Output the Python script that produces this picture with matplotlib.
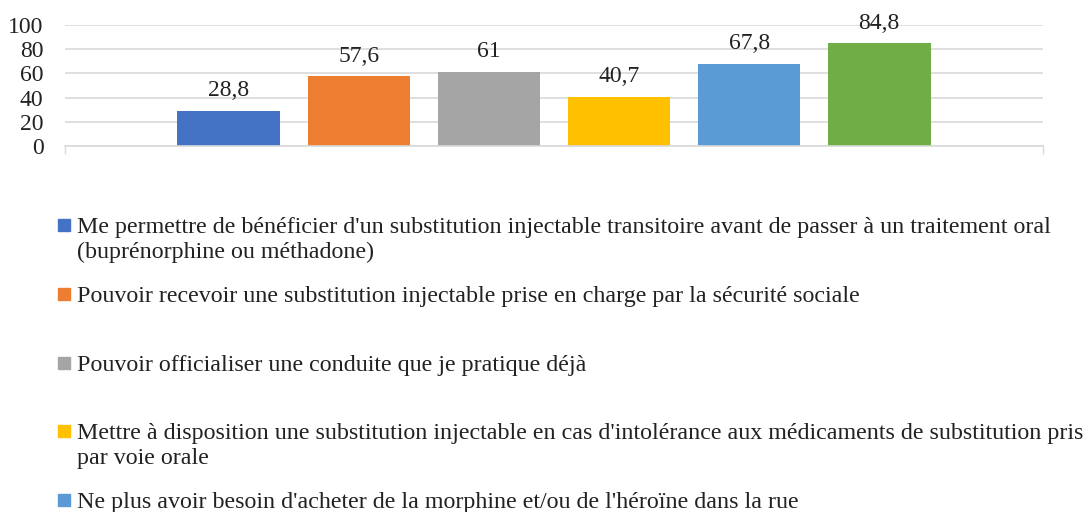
import matplotlib
matplotlib.use("Agg")
import matplotlib.pyplot as plt
from matplotlib.patches import Rectangle

# data
valeurs = [28.8, 57.6, 61, 40.7, 67.8, 84.8]
etiquettes = ["28,8", "57,6", "61", "40,7", "67,8", "84,8"]
couleurs = ["#4472C4", "#ED7D31", "#A5A5A5", "#FFC000", "#5B9BD5", "#70AD47"]
legende = [
    "Me permettre de bénéficier d'un substitution injectable transitoire avant de passer à un traitement oral\n(buprénorphine ou méthadone)",
    "Pouvoir recevoir une substitution injectable prise en charge par la sécurité sociale",
    "Pouvoir officialiser une conduite que je pratique déjà",
    "Mettre à disposition une substitution injectable en cas d'intolérance aux médicaments de substitution pris\npar voie orale",
    "Ne plus avoir besoin d'acheter de la morphine et/ou de l'héroïne dans la rue",
]
yticks = [0, 20, 40, 60, 80, 100]

plt.rcParams['font.family'] = ['Liberation Serif', 'DejaVu Serif']
W, H = 1089, 512
fig = plt.figure(figsize=(W / 100, H / 100), dpi=100)
ax = fig.add_axes([65 / W, 1 - 146 / H, (1043 - 65) / W, (146 - 25) / H])

x = list(range(len(valeurs)))
bars = ax.bar(x, valeurs, width=0.79, color=couleurs, zorder=2)
for b, lab in zip(bars, etiquettes):
    ax.annotate(lab, (b.get_x() + b.get_width() / 2, b.get_height()),
                xytext=(0, 7), textcoords="offset points",
                ha="center", va="bottom", fontsize=17, color="#222222")

ax.set_xlim(-1.26, len(valeurs) - 1 + 1.26)
ax.set_ylim(0, 100)
ax.set_yticks(yticks)
ax.set_yticklabels([str(t) for t in yticks], fontsize=17, color="#222222")
ax.tick_params(axis="y", length=0, pad=15.5)
ax.set_xticks([ax.get_xlim()[0], ax.get_xlim()[1]])
ax.set_xticklabels([])
ax.tick_params(axis="x", length=6, color="#d9d9d9", width=1)
ax.yaxis.grid(True, color="#d9d9d9", linewidth=1.2, zorder=0)
ax.set_axisbelow(True)
for s in ["top", "right", "left"]:
    ax.spines[s].set_visible(False)
ax.spines["bottom"].set_color("#d9d9d9")
ax.spines["bottom"].set_linewidth(1.2)

# legend drawn by hand below the plot
y0, pas = 225, 68.75
for i, (lab, c) in enumerate(zip(legende, couleurs)):
    yc = y0 + i * pas
    fig.patches.append(Rectangle((58 / W, 1 - (yc + 6) / H), 12 / W, 12 / H,
                                 transform=fig.transFigure, color=c))
    fig.text(77 / W, 1 - (yc - 8) / H, lab, fontsize=17.3, va="top", ha="left",
             color="#222222", linespacing=1.25)

fig.savefig("out.png", dpi=100)
